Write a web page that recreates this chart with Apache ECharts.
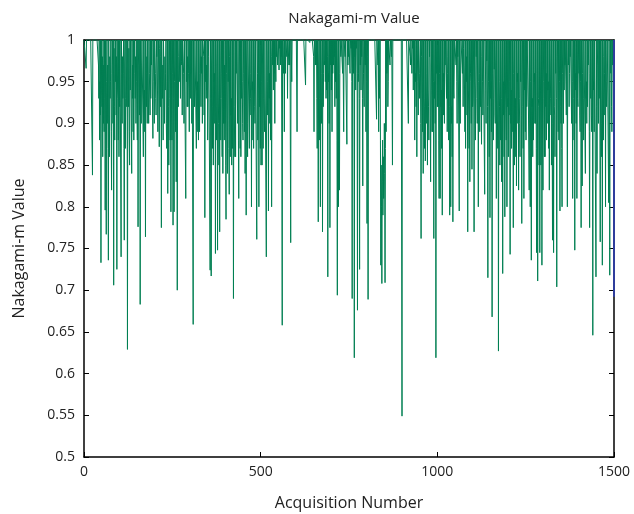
<!DOCTYPE html>
<html>
<head>
<meta charset="utf-8">
<script src="https://cdn.jsdelivr.net/npm/echarts@6/dist/echarts.min.js"></script>
<style>
  html, body { margin: 0; padding: 0; background: #fff; }
  #chart { width: 634px; height: 514px; }
</style>
</head>
<body>
<div id="chart"></div>
<script>
// Nakagami-m value per acquisition, in blocks of 300 acquisitions
const mAcq0000 = [
  1,1,1, 1,1,1, 0.966,1,1, 1,1,1, 1,1,1, 1,1,1, 1,1,1, 1,1,1, 0.838,1,1, 1,1,1,
  1,1,1, 1,1,1, 1,1,1, 1,1,0.97, 0.93,1,0.88, 0.95,0.91,1, 0.733,1,0.94, 0.92,0.98,0.86, 1,0.90,0.97, 0.89,1,0.93,
  0.796,1,0.92, 0.767,0.95,1, 0.90,0.97,0.87, 0.736,1,0.91, 0.86,0.98,0.93, 0.95,1,0.89, 0.82,0.96,1, 0.97,0.90,1, 0.706,0.99,0.92, 0.88,1,0.95,
  1,0.91,0.98, 0.725,1,0.94, 0.93,0.88,1, 0.86,1,0.92, 1,1,1, 0.74,1,0.96, 0.90,0.98,0.93, 0.96,1,0.87, 0.76,0.97,1, 0.87,0.93,1,
  1,0.92,1, 0.629,1,0.95, 0.92,0.99,0.89, 0.85,1,0.94, 1,1,1, 0.84,1,0.93, 0.97,0.89,1, 0.88,0.96,1, 1,0.93,0.98, 0.90,1,0.95,
  0.95,0.88,1, 0.776,0.97,1, 0.98,0.91,1, 0.683,1,0.94, 0.90,0.97,1, 1,1,1, 0.86,1,0.93, 0.94,0.89,1, 0.764,1,0.96, 0.92,0.98,0.90,
  1,1,1, 0.90,1,0.96, 0.96,0.91,1, 0.93,1,0.97, 1,1,1, 0.882,1,0.97, 0.95,0.90,1, 1,0.96,0.93, 0.91,1,0.98, 1,0.94,0.89,
  0.94,1,0.97, 0.872,0.99,1, 0.98,0.92,1, 0.775,1,0.95, 0.93,0.97,0.88, 1,1,1, 0.90,0.98,0.94, 0.96,1,0.90, 0.87,0.95,1, 0.816,1,0.92,
  0.85,0.97,1, 0.93,0.88,1, 0.794,1,0.91, 0.88,0.96,1, 0.778,1,0.93, 0.794,0.95,1, 0.95,0.89,1, 0.83,1,0.96, 0.70,1,0.93, 0.92,0.98,1,
  1,0.95,1, 0.93,1,0.97, 0.974,1,0.91, 1,1,1, 0.96,0.90,1, 1,1,1, 0.81,1,0.95, 1,0.92,0.98, 0.92,1,0.96, 0.94,0.89,1
];
const mAcq0300 = [
  1,0.93,1, 0.96,1,0.90, 1,1,1, 0.659,1,0.97, 0.97,0.92,1, 1,1,1, 0.87,1,0.94, 0.95,0.89,1, 0.88,1,0.97, 0.89,0.96,1,
  1,0.92,0.98, 0.96,1,0.90, 1,1,1, 0.98,0.91,1, 0.787,1,0.95, 1,0.93,0.97, 0.94,1,0.88, 0.93,0.98,1, 1,1,1, 0.724,1,0.93,
  0.717,0.97,1, 0.92,0.87,1, 0.85,1,0.95, 0.96,0.90,1, 0.744,1,0.92, 0.88,0.97,1, 0.748,1,0.94, 0.90,0.85,1, 0.77,1,0.93, 0.88,0.96,1,
  0.93,0.86,1, 0.84,1,0.90, 1,0.88,0.97, 0.90,1,0.85, 0.785,0.96,1, 0.89,0.84,1, 0.95,1,0.87, 0.815,0.98,1, 0.86,1,0.91, 0.93,0.85,1,
  0.87,1,0.95, 0.69,1,0.92, 0.92,0.86,1, 0.86,1,0.96, 1,1,1, 0.90,1,0.88, 0.81,0.97,1, 0.94,0.87,1, 0.86,1,0.93, 1,0.95,0.90,
  0.88,1,0.96, 0.93,0.89,1, 0.84,1,0.92, 0.79,0.97,1, 0.90,0.86,1, 1,1,1, 0.87,1,0.91, 0.93,0.96,1, 0.80,1,0.94, 0.95,0.88,1,
  0.87,1,0.97, 0.92,0.90,1, 1,1,1, 0.761,1,0.96, 0.88,0.93,1, 0.80,1,0.92, 0.94,0.87,1, 0.85,1,0.95, 0.85,0.97,1, 0.87,1,0.93,
  0.93,0.89,1, 1,1,1, 0.74,1,0.97, 0.91,0.95,1, 0.795,1,0.93, 0.96,0.90,1, 0.88,1,0.98, 0.80,0.97,1, 0.97,1,0.94, 1,0.96,1,
  0.90,1,1, 0.95,1,0.98, 1,1,0.97, 0.97,1,1, 0.964,1,0.99, 1,0.97,1, 0.98,1,1, 0.658,1,1, 1,0.96,1, 0.89,1,0.98,
  0.96,1,1, 1,0.98,1, 0.93,1,1, 1,0.97,1, 0.97,1,1, 0.757,1,1, 0.95,1,1, 1,1,1, 1,1,1, 1,1,1
];
const mAcq0600 = [
  1,1,1, 0.89,1,1, 1,1,1, 1,1,1, 1,1,1, 1,1,1, 1,1,1, 1,1,1, 1,1,1, 0.946,1,1,
  1,1,1, 1,1,1, 1,1,1, 0.997,1,1, 1,1,1, 1,1,1, 1,1,0.98, 0.89,1,1, 1,0.97,1, 0.97,1,0.93,
  0.87,1,0.95, 0.782,0.97,1, 0.93,0.88,1, 0.80,1,0.94, 0.90,0.96,1, 0.77,1,0.92, 0.96,1,0.97, 0.975,1,0.95, 1,0.93,1, 0.94,1,0.98,
  0.716,1,0.95, 0.96,0.90,1, 0.775,1,0.97, 1,0.94,1, 0.89,1,0.96, 1,0.97,1, 0.98,1,0.92, 1,0.95,1, 0.93,1,0.88, 0.694,0.97,1,
  0.80,1,0.93, 0.82,0.96,1, 1,0.98,1, 1,1,0.97, 0.96,1,1, 0.89,1,1, 1,0.98,1, 1,1,1, 0.875,1,1, 0.97,1,0.98,
  1,1,0.97, 0.96,1,1, 0.99,1,0.95, 0.69,1,0.97, 1,0.96,1, 0.619,1,0.98, 1,0.94,1, 0.99,1,0.96, 0.676,1,0.95, 0.96,1,0.93,
  0.725,1,0.97, 1,0.94,1, 0.98,1,0.93, 0.825,1,0.96, 0.96,0.92,1, 1,0.97,1, 0.89,1,0.95, 0.78,1,0.98, 0.689,1,1, 1,1,1,
  1,1,1, 1,1,1, 1,1,1, 1,1,1, 1,1,1, 1,1,1, 0.905,1,1, 1,0.97,1, 0.89,1,0.93, 0.96,1,0.88,
  0.73,0.85,0.80, 0.708,0.83,0.88, 0.79,0.86,0.81, 0.83,0.90,0.84, 0.709,0.87,1, 0.89,1,0.96, 0.97,1,0.92, 0.95,1,1, 1,1,0.97, 1,1,1,
  0.98,1,1, 0.85,1,1, 1,1,1, 1,1,1, 1,1,1, 1,1,1, 1,1,1, 1,1,1, 1,1,1, 1,1,1
];
const mAcq0900 = [
  0.549,1,1, 1,1,1, 1,1,1, 1,1,1, 1,1,1, 1,1,1, 0.90,1,1, 1,1,0.98, 0.97,1,1, 1,0.96,1,
  0.99,1,0.94, 1,0.97,1, 0.88,1,0.95, 0.96,0.92,1, 0.86,1,0.97, 0.95,0.91,1, 1,0.96,0.93, 0.93,1,0.90, 0.762,0.98,1, 0.95,0.89,1,
  0.84,1,0.93, 0.92,0.87,1, 0.855,1,0.96, 0.96,0.90,1, 0.85,1,0.94, 0.92,0.88,1, 0.98,1,0.91, 0.83,0.97,1, 0.94,0.89,1, 0.89,1,0.95,
  0.762,1,0.93, 0.95,0.90,1, 0.619,1,0.96, 0.97,0.92,1, 0.92,1,0.88, 0.81,0.96,1, 0.81,1,0.92, 0.94,0.87,1, 0.79,1,0.95, 0.96,0.91,1,
  0.90,1,0.97, 1,1,1, 0.93,1,0.89, 0.96,0.98,1, 0.88,1,0.92, 0.79,0.95,1, 0.80,1,0.90, 0.92,0.86,1, 0.782,1,0.94, 0.93,0.97,1,
  1,1,1, 0.97,1,0.95, 0.90,1,0.98, 1,1,1, 0.795,1,0.93, 0.90,0.97,1, 1,1,1, 0.96,1,0.92, 0.99,1,0.97, 0.94,0.89,1,
  0.87,1,0.95, 0.98,0.91,1, 0.77,1,0.94, 0.91,0.87,1, 0.83,1,0.96, 0.95,0.90,1, 0.845,1,0.92, 0.93,0.97,1, 0.77,1,0.95, 0.94,0.88,1,
  0.98,1,0.93, 0.90,1,0.96, 0.80,0.95,1, 0.96,0.89,1, 0.92,1,0.94, 0.875,0.98,1, 0.95,0.91,1, 1,1,1, 0.815,1,0.97, 0.94,0.90,1,
  0.975,1,0.92, 0.715,1,0.95, 0.92,0.86,1, 0.787,1,0.93, 0.95,0.89,1, 0.668,1,0.96, 0.93,0.88,1, 0.965,1,0.91, 0.90,0.97,1, 0.81,1,0.94,
  0.94,0.87,1, 0.627,1,0.95, 0.92,0.85,1, 0.88,1,0.93, 0.83,0.96,1, 0.72,1,0.91, 0.95,0.86,1, 0.788,1,0.94, 0.91,0.88,1, 0.80,1,0.92
];
const mAcq1200 = [
  0.93,0.86,1, 0.91,1,0.95, 0.743,1,0.90, 0.94,0.87,1, 0.89,1,0.93, 0.775,0.96,1, 0.85,1,0.89, 0.93,0.86,1, 0.825,1,0.95, 0.96,0.90,1,
  0.82,1,0.93, 0.90,0.86,1, 0.95,1,0.91, 0.78,0.97,1, 0.92,0.87,1, 0.81,1,0.94, 0.96,0.89,1, 0.88,1,0.92, 0.94,0.97,1, 1,1,1,
  0.82,1,0.90, 0.80,0.95,1, 0.736,1,0.92, 0.93,0.86,1, 0.88,1,0.95, 0.96,0.90,1, 0.90,1,0.87, 0.745,0.96,1, 0.711,1,0.93, 0.92,0.85,1,
  0.745,1,0.94, 0.85,0.90,1, 0.73,1,0.88, 0.82,0.95,1, 0.93,0.86,1, 0.86,1,0.92, 0.96,0.88,1, 0.90,1,0.94, 0.95,0.87,1, 0.82,1,0.91,
  0.93,0.97,1, 0.85,1,0.90, 0.76,0.94,1, 0.745,1,0.92, 0.91,0.86,1, 0.96,1,0.93, 0.704,0.98,1, 0.94,0.89,1, 0.88,1,0.95, 0.795,0.92,1,
  0.90,1,0.87, 0.80,0.96,1, 0.95,0.90,1, 0.94,1,0.97, 1,1,1, 0.91,1,0.96, 0.80,0.97,1, 0.97,1,0.92, 0.96,1,0.98, 1,1,1,
  0.90,1,0.95, 0.81,0.97,1, 0.93,0.88,1, 0.748,1,0.94, 0.96,0.90,1, 0.81,1,0.93, 0.92,0.97,1, 0.96,1,0.91, 0.89,0.95,1, 0.775,1,0.92,
  0.825,0.96,1, 0.93,0.88,1, 1,1,1, 0.84,1,0.93, 0.95,0.90,1, 0.92,1,0.97, 0.97,1,0.89, 0.775,0.96,1, 0.93,1,0.91, 0.89,0.97,1,
  0.646,1,0.94, 0.95,0.89,1, 1,1,1, 0.716,1,0.92, 0.84,0.97,1, 0.97,0.90,1, 0.93,1,0.95, 0.758,1,0.93, 0.90,0.86,1, 0.73,1,0.96,
  0.88,0.98,1, 0.96,0.91,1, 0.80,1,0.95, 0.92,0.97,1, 1,1,1, 0.805,1,0.90, 0.718,0.96,1, 0.96,1,0.92, 0.89,1,0.97, 1,1,1,
  1
];
// final marker segment drawn at the last acquisition
const endAcq = 1500;
const endSpan = [1, 0.692];

const xTicks = [0, 500, 1000, 1500];
const yMin = 0.5, yMax = 1, yStep = 0.05;

const mValues = [].concat(mAcq0000, mAcq0300, mAcq0600, mAcq0900, mAcq1200);
const mSeries = mValues.map((v, i) => [i, v]);
const endSeries = endSpan.map(v => [endAcq, v]);

const FONT = 'Open Sans';
const chart = echarts.init(document.getElementById('chart'), null, { renderer: 'canvas' });

const frameLine = { show: true, onZero: false, lineStyle: { color: '#000', width: 1.5 } };
const innerTick = { show: true, inside: true, length: 5, lineStyle: { color: '#000', width: 1 } };

chart.setOption({
  animation: false,
  backgroundColor: '#fff',
  title: {
    text: 'Nakagami-m Value',
    left: 349, textAlign: 'center', top: 6,
    textStyle: { fontFamily: FONT, fontSize: 15, fontWeight: 'normal', color: '#222' }
  },
  grid: { left: 84, right: 20, top: 40, bottom: 57, containLabel: false, outerBoundsMode: 'none' },
  xAxis: [
    {
      type: 'value', min: xTicks[0], max: xTicks[xTicks.length - 1],
      interval: xTicks[1] - xTicks[0],
      name: 'Acquisition Number', nameLocation: 'middle', nameGap: 38,
      nameTextStyle: { fontFamily: FONT, fontSize: 16, color: '#222' },
      axisLine: frameLine, axisTick: innerTick,
      axisLabel: { fontFamily: FONT, fontSize: 14, color: '#222', margin: 8, formatter: v => String(v) },
      splitLine: { show: false }
    },
    {
      type: 'value', position: 'top', min: xTicks[0], max: xTicks[xTicks.length - 1],
      interval: xTicks[1] - xTicks[0],
      axisLine: frameLine, axisTick: innerTick,
      axisLabel: { show: false }, splitLine: { show: false }
    }
  ],
  yAxis: [
    {
      type: 'value', min: yMin, max: yMax, interval: yStep,
      name: 'Nakagami-m Value', nameLocation: 'middle', nameGap: 57,
      nameTextStyle: { fontFamily: FONT, fontSize: 16, color: '#222' },
      axisLine: frameLine, axisTick: innerTick,
      axisLabel: {
        fontFamily: FONT, fontSize: 14, color: '#222', margin: 9,
        formatter: v => String(parseFloat(v.toFixed(2)))
      },
      splitLine: { show: false }
    },
    {
      type: 'value', position: 'right', min: yMin, max: yMax, interval: yStep,
      axisLine: frameLine, axisTick: innerTick,
      axisLabel: { show: false }, splitLine: { show: false }
    }
  ],
  series: [
    {
      type: 'line', data: mSeries, showSymbol: false, symbol: 'none',
      sampling: null, clip: true,
      lineStyle: { color: '#007f52', width: 1 }
    },
    {
      type: 'line', data: endSeries, showSymbol: false, symbol: 'none', clip: false,
      lineStyle: { color: '#2f3d9c', width: 2 }, z: 10
    }
  ]
});
</script>
</body>
</html>
